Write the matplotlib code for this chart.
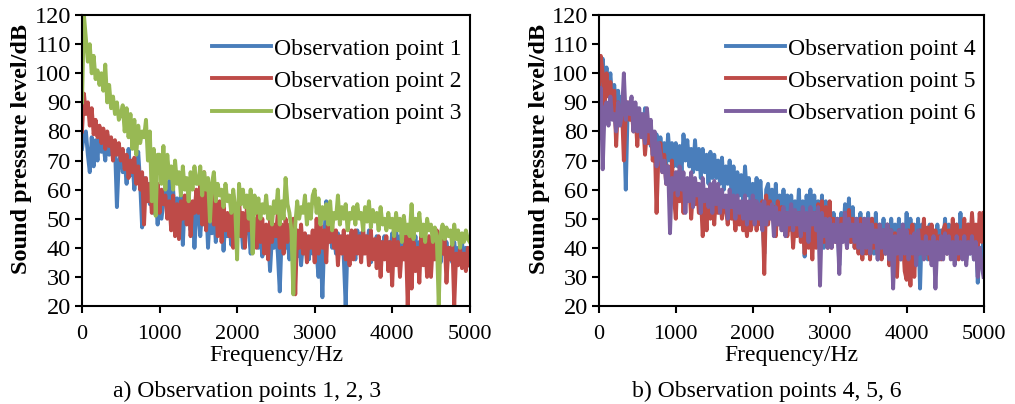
import numpy as np
import matplotlib
matplotlib.use("Agg")
import matplotlib.pyplot as plt

# frequency grid, 25 Hz steps
freq = np.arange(0, 5001, 25)

# a) observation points 1, 2, 3 (values in dB, read from the figure)
obs1 = [74, 79, 80, 72, 66, 78, 68, 77, 70, 81, 73, 76, 70, 79, 72, 77, 71, 75, 54, 70,
        72, 66, 70, 62, 74, 65, 70, 60, 68, 73, 62, 47, 64, 56, 62, 55, 60, 52, 58, 48,
        58, 50, 56, 62, 52, 63, 55, 60, 50, 57, 48, 58, 41, 56, 50, 55, 46, 54, 40, 52,
        55, 44, 54, 48, 56, 40, 53, 45, 54, 42, 50, 46, 52, 39, 50, 44, 48, 41, 50, 43,
        48, 44, 50, 40, 48, 45, 46, 38, 47, 42, 45, 40, 46, 37, 44, 40, 45, 32, 44, 40,
        46, 38, 25, 44, 45, 40, 43, 36, 44, 38, 42, 37, 44, 34, 42, 38, 44, 36, 43, 38,
        44, 38, 30, 42, 23, 44, 56, 42, 46, 40, 44, 38, 45, 40, 44, 37, 20, 42, 44, 38,
        44, 36, 46, 40, 45, 38, 44, 40, 46, 35, 42, 38, 44, 36, 42, 40, 44, 37, 42, 38,
        45, 37, 46, 40, 44, 38, 48, 40, 44, 36, 46, 38, 44, 36, 42, 38, 44, 37, 41, 38,
        40, 36, 44, 38, 41, 35, 43, 38, 42, 37, 40, 35, 42, 36, 40, 38, 42, 35, 40, 34,
        38]
obs2 = [80, 93, 86, 90, 82, 88, 79, 84, 78, 82, 76, 81, 74, 80, 75, 78, 70, 77, 72, 76,
        70, 74, 67, 72, 64, 70, 66, 71, 62, 68, 60, 66, 48, 64, 56, 62, 52, 60, 54, 62,
        52, 60, 55, 58, 50, 56, 46, 58, 44, 55, 43, 56, 50, 58, 48, 60, 44, 56, 52, 60,
        52, 62, 48, 66, 46, 62, 50, 60, 48, 58, 44, 56, 42, 55, 46, 52, 44, 54, 40, 52,
        46, 57, 44, 52, 40, 54, 46, 52, 44, 50, 40, 52, 42, 50, 38, 48, 36, 50, 42, 48,
        44, 52, 40, 48, 38, 50, 42, 48, 44, 50, 24, 46, 40, 48, 38, 45, 35, 44, 40, 46,
        35, 50, 38, 48, 40, 46, 35, 52, 42, 48, 40, 46, 34, 44, 38, 46, 36, 44, 34, 46,
        36, 46, 38, 44, 35, 47, 38, 44, 34, 46, 36, 43, 33, 44, 30, 42, 36, 44, 32, 42,
        27, 45, 34, 42, 30, 40, 36, 44, 20, 44, 26, 42, 32, 40, 28, 45, 34, 42, 30, 44,
        30, 42, 36, 46, 34, 42, 38, 44, 28, 40, 36, 42, 20, 38, 34, 40, 33, 38, 32, 40,
        34]
obs3 = [90, 120, 112, 104, 110, 100, 106, 98, 101, 96, 100, 94, 103, 90, 96, 88, 92, 86, 90, 84,
        86, 89, 80, 88, 78, 86, 74, 84, 72, 82, 76, 80, 78, 84, 70, 80, 56, 74, 51, 72,
        72, 62, 75, 60, 72, 64, 68, 60, 70, 62, 66, 58, 68, 60, 64, 56, 66, 60, 68, 62,
        62, 68, 58, 66, 60, 64, 49, 62, 66, 56, 62, 58, 60, 54, 62, 56, 58, 52, 60, 54,
        36, 62, 55, 60, 54, 58, 50, 60, 38, 58, 52, 57, 50, 55, 52, 58, 50, 54, 48, 56,
        52, 60, 48, 56, 50, 64, 55, 52, 46, 24, 48, 56, 50, 54, 52, 58, 48, 55, 50, 58,
        60, 52, 57, 48, 54, 50, 55, 48, 56, 46, 52, 50, 58, 48, 54, 50, 55, 46, 52, 50,
        54, 48, 55, 50, 52, 46, 54, 49, 56, 47, 53, 49, 52, 46, 54, 48, 50, 46, 52, 47,
        50, 44, 52, 46, 50, 42, 51, 45, 48, 44, 55, 43, 50, 46, 52, 44, 48, 42, 50, 46,
        48, 42, 47, 44, 20, 45, 48, 43, 47, 44, 46, 41, 48, 43, 46, 40, 45, 42, 46, 43,
        42]

# b) observation points 4, 5, 6
obs4 = [80, 98, 105, 96, 102, 94, 100, 90, 96, 88, 94, 86, 92, 84, 60, 88, 90, 84, 88, 82,
        88, 80, 86, 78, 88, 80, 82, 75, 80, 74, 79, 70, 78, 72, 76, 68, 79, 70, 76, 68,
        76, 68, 75, 66, 79, 70, 77, 68, 74, 66, 77, 67, 74, 64, 74, 66, 72, 62, 73, 64,
        72, 64, 70, 62, 71, 60, 68, 62, 70, 58, 68, 56, 66, 58, 65, 56, 68, 58, 64, 54,
        62, 54, 64, 52, 63, 50, 38, 60, 62, 52, 60, 50, 62, 48, 58, 50, 60, 48, 58, 46,
        58, 50, 56, 48, 60, 44, 56, 37, 58, 46, 60, 44, 58, 46, 56, 42, 58, 40, 56, 44,
        54, 42, 52, 46, 50, 34, 52, 44, 55, 40, 57, 42, 54, 40, 50, 42, 52, 38, 50, 42,
        52, 40, 50, 38, 52, 36, 48, 40, 50, 38, 48, 36, 50, 40, 48, 38, 50, 36, 48, 38,
        52, 38, 50, 40, 48, 36, 50, 26, 48, 38, 46, 36, 48, 40, 46, 36, 48, 38, 46, 40,
        50, 38, 48, 40, 46, 36, 48, 38, 52, 40, 46, 36, 48, 38, 50, 36, 46, 28, 40, 36,
        44]
obs5 = [95, 106, 100, 88, 100, 92, 97, 86, 94, 75, 90, 84, 88, 70, 86, 90, 84, 88, 80, 86,
        75, 86, 80, 84, 72, 80, 76, 82, 70, 78, 52, 72, 76, 66, 72, 62, 68, 60, 70, 58,
        50, 66, 56, 64, 52, 63, 58, 62, 50, 60, 55, 62, 52, 58, 44, 58, 46, 60, 50, 58,
        48, 60, 52, 58, 50, 56, 54, 48, 55, 50, 54, 46, 52, 48, 54, 46, 50, 44, 52, 46,
        50, 56, 46, 54, 48, 56, 31, 58, 48, 56, 50, 54, 44, 56, 48, 54, 46, 52, 44, 50,
        52, 40, 50, 44, 52, 42, 48, 38, 50, 40, 48, 36, 52, 40, 55, 44, 56, 42, 54, 40,
        56, 40, 50, 42, 48, 38, 50, 44, 52, 40, 53, 42, 50, 40, 48, 38, 50, 36, 48, 38,
        46, 36, 50, 40, 48, 38, 47, 36, 46, 38, 48, 34, 46, 36, 45, 30, 46, 38, 44, 32,
        29, 46, 27, 48, 30, 44, 38, 46, 40, 50, 38, 47, 36, 48, 40, 46, 38, 44, 36, 46,
        48, 38, 46, 40, 50, 38, 48, 36, 46, 40, 50, 38, 48, 40, 52, 42, 48, 40, 52, 42,
        52]
obs6 = [78, 95, 67, 88, 90, 82, 92, 84, 86, 80, 90, 82, 86, 100, 84, 90, 86, 92, 80, 90,
        80, 88, 78, 86, 76, 88, 80, 84, 72, 80, 68, 76, 72, 66, 70, 62, 68, 45, 64, 60,
        66, 58, 68, 60, 66, 52, 64, 56, 66, 54, 64, 58, 62, 52, 64, 56, 60, 54, 62, 52,
        63, 55, 62, 52, 60, 54, 58, 50, 60, 54, 58, 50, 58, 52, 56, 50, 58, 48, 56, 50,
        58, 48, 56, 50, 55, 46, 56, 48, 54, 50, 55, 44, 54, 48, 52, 46, 54, 44, 52, 48,
        55, 46, 53, 48, 52, 44, 54, 46, 52, 42, 54, 48, 52, 46, 54, 27, 52, 44, 50, 40,
        50, 40, 48, 42, 50, 31, 48, 42, 52, 40, 50, 44, 48, 42, 50, 40, 48, 38, 50, 40,
        50, 38, 48, 42, 46, 36, 48, 40, 46, 38, 48, 36, 46, 26, 44, 38, 46, 36, 48, 38,
        46, 36, 44, 38, 45, 34, 46, 38, 42, 36, 44, 38, 42, 34, 44, 26, 42, 36, 44, 36,
        45, 38, 44, 36, 42, 34, 44, 38, 42, 36, 44, 34, 42, 38, 44, 36, 42, 30, 40, 34,
        30]

for s in (obs1, obs2, obs3, obs4, obs5, obs6):
    assert len(s) == len(freq), len(s)

blue = "#4A7EBB"
red = "#BE4B48"
green = "#98B954"
purple = "#7D60A0"

plt.rcParams['font.family'] = ['Liberation Serif', 'DejaVu Serif']

fig = plt.figure(figsize=(10.15, 4.04), dpi=100)
ax1 = fig.add_axes([0.0808, 0.2426, 0.382, 0.720])
ax2 = fig.add_axes([0.590, 0.2426, 0.379, 0.720])

panels = [
    (ax1, [(obs1, blue, "Observation point 1"),
           (obs2, red, "Observation point 2"),
           (obs3, green, "Observation point 3")]),
    (ax2, [(obs4, blue, "Observation point 4"),
           (obs5, red, "Observation point 5"),
           (obs6, purple, "Observation point 6")]),
]

for ax, series in panels:
    for vals, col, lab in series:
        ax.plot(freq, vals, color=col, lw=2.8, label=lab)
    ax.set_xlim(0, 5000)
    ax.set_ylim(20, 120)
    ax.set_xticks([0, 1000, 2000, 3000, 4000, 5000])
    ax.set_yticks(range(20, 121, 10))
    ax.tick_params(axis='both', direction='out', length=5, width=1.5, pad=3)
    ax.tick_params(axis='x', labelsize=16, pad=9)
    ax.tick_params(axis='y', labelsize=17.5)
    for s in ax.spines.values():
        s.set_linewidth(1.5)
    ax.set_xlabel("Frequency/Hz", fontsize=17)
    ax.xaxis.set_label_coords(0.5, -0.135)
    ax.set_ylabel("Sound pressure level/dB", fontsize=17.5, fontweight='bold')
    ax.yaxis.set_label_coords(-0.128, 0.54)
    ax.legend(loc='upper right', frameon=False, fontsize=17,
              handlelength=2.5, handletextpad=0.1, labelspacing=0.45,
              borderaxespad=0.2, bbox_to_anchor=(1.015, 0.97))

fig.text(0.243, 0.032, "a) Observation points 1, 2, 3", fontsize=17,
         ha='center', va='center')
fig.text(0.755, 0.032, "b) Observation points 4, 5, 6", fontsize=17,
         ha='center', va='center')

fig.savefig("out.png", dpi=100)
